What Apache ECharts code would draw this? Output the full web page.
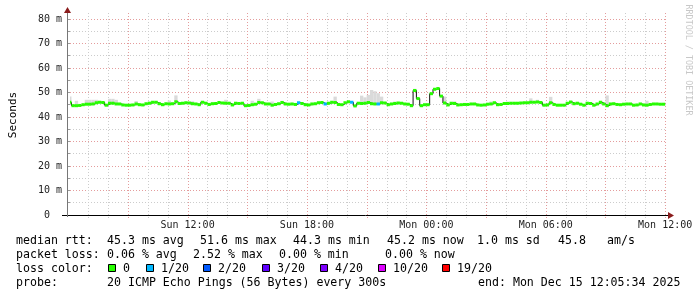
<!DOCTYPE html>
<html><head><meta charset="utf-8">
<script src="https://cdn.jsdelivr.net/npm/echarts@6/dist/echarts.min.js"></script>
<style>html,body{margin:0;padding:0;background:#fff}#c{width:697px;height:297px}</style>
</head><body><div id="c"></div>
<script>
// ---- time frame ----
const START = Date.UTC(2025, 11, 14, 6, 5, 34);
const END = Date.UTC(2025, 11, 15, 12, 5, 34);
const FIRST_SAMPLE = Date.UTC(2025, 11, 14, 6, 10, 0);
const STEP = 10 * 60 * 1000;

// ---- median rtt (ms), one value per 10-minute step ----
const medianMs = [
  46.0,44.6,44.6,44.7,45.0,45.2,45.2,45.3,45.8,46.0,45.9,44.8,45.6,45.6,45.3,45.3,44.9,44.8,44.8,44.9,
  45.3,45.0,44.9,45.4,45.6,46.0,46.0,45.4,45.0,45.4,45.3,45.4,46.2,45.5,45.6,45.8,45.7,45.4,45.3,45.0,
  46.0,45.6,45.1,45.4,45.5,
  45.9,45.7,45.6,45.6,44.9,45.6,45.5,45.6,44.6,44.7,45.0,45.2,45.9,45.8,45.3,45.3,44.8,45.1,45.4,45.9,
  45.3,45.2,45.3,45.1,45.8,45.5,45.0,44.9,45.3,45.4,45.8,45.9,45.3,45.6,46.0,45.9,45.1,45.0,45.8,46.2,
  46.0,44.5,45.6,45.5,
  45.6,45.9,45.4,45.3,45.3,45.8,45.7,45.0,45.3,45.5,45.7,45.6,45.3,45.2,44.6,50.8,47.5,44.6,45.0,45.0,
  49.5,51.3,51.6,48.5,45.7,44.9,45.6,45.5,44.9,45.0,45.1,45.1,45.3,45.3,44.9,44.8,44.9,45.2,45.3,45.8,
  45.0,45.1,45.5,45.5,45.6,45.6,
  45.6,45.7,45.8,45.8,46.0,46.0,46.1,45.9,44.8,44.9,45.8,45.1,44.8,44.8,44.8,45.6,46.1,45.4,45.6,45.2,
  44.8,45.6,45.5,44.8,45.3,46.0,45.3,44.6,45.3,45.4,45.1,45.0,45.2,45.3,45.3,44.8,44.9,45.3,44.9,44.8,
  45.1,45.3,45.3,45.2,45.2
];

// ---- samples with packet loss: [sample index, loss level index] ----
const lossSamples = [[69, 1], [77, 1], [85, 1], [93, 1]];

// ---- smoke (max ping) tops: [sample index, ms] ----
const smokeTop = [
  [0,48.3],[2,46.6],[5,47.0],[6,47.0],[7,47.0],[8,47.0],[12,47.4],[13,47.4],[14,47.0],[20,46.5],
  [24,46.3],[30,46.7],[32,48.8],[37,46.4],[43,46.0],[47,47.0],[55,46.6],[57,47.4],[61,46.3],[64,46.6],
  [75,46.4],[80,48.3],[88,48.7],[89,48.0],[90,49.0],[91,51.0],[92,50.5],[93,49.7],[94,48.3],[98,46.3],
  [104,51.5],[113,48.3],[116,46.4],[127,46.3],[132,46.3],[139,47.6],[141,47.0],[145,48.2],[162,48.8],[174,46.6]
];

// ---- axis labels ----
const xLabelTimes = [Date.UTC(2025,11,14,12), Date.UTC(2025,11,14,18), Date.UTC(2025,11,15,0), Date.UTC(2025,11,15,6), Date.UTC(2025,11,15,12)];
const xLabelTexts = ['Sun 12:00', 'Sun 18:00', 'Mon 00:00', 'Mon 06:00', 'Mon 12:00'];
const yMajorTicks = [0, 10, 20, 30, 40, 50, 60, 70, 80];

// ---- legend ----
const lossLabels = ['0', '1/20', '2/20', '3/20', '4/20', '10/20', '19/20'];
const lossColors = ['#26ff00', '#00b8ff', '#0059ff', '#5e00ff', '#7e00ff', '#dd00ff', '#ff0000'];
const statsRtt = ['median rtt:', '45.3 ms avg', '51.6 ms max', '44.3 ms min', '45.2 ms now', '1.0 ms sd', '45.8', 'am/s'];
const statsLoss = ['packet loss:', '0.06 % avg', '2.52 % max', '0.00 % min', '0.00 % now'];
const probeLine = ['probe:', '20 ICMP Echo Pings (56 Bytes) every 300s', 'end: Mon Dec 15 12:05:34 2025'];

// layout (pixels)
const rttX = [16, 107, 200, 293, 387, 477, 558, 607];
const lossX = [16, 107, 193, 279, 385];
const boxX = [108, 146, 203, 262, 320, 378, 442];
const probeX = [16, 107, 478];
const lineY = [241, 255, 269, 283];

const G = {left: 67, top: 15, width: 600, height: 200};
const MONO = '"DejaVu Sans Mono", monospace';
const RED_GRID = '#e49c9c';
const GRAY_GRID = '#cccccc';
const ARROW = '#8a1c1c';

const lossOf = new Array(medianMs.length).fill(0);
lossSamples.forEach(([i, l]) => { lossOf[i] = l; });
const sampleTime = i => FIRST_SAMPLE + i * STEP;

const medianData = medianMs.map((v, i) => [sampleTime(i), v, lossOf[i]]);
const smokeData = smokeTop.map(([i, top]) => [sampleTime(i), top, medianMs[i]]);
const hourTicks = [];
for (let t = Date.UTC(2025,11,14,7); t <= END; t += 3600000) hourTicks.push([t, new Date(t).getUTCHours() % 3 === 0 ? 1 : 0]);

const graphics = [];
const txt = (text, x, y, extra) => graphics.push({type: 'text', x, y, silent: true,
  style: Object.assign({text, fill: '#000', font: '11.6px ' + MONO, verticalAlign: 'middle'}, extra || {})});
statsRtt.forEach((s, k) => txt(s, rttX[k], lineY[0]));
statsLoss.forEach((s, k) => txt(s, lossX[k], lineY[1]));
txt('loss color:', 16, lineY[2]);
lossLabels.forEach((s, k) => {
  graphics.push({type: 'rect', silent: true, shape: {x: boxX[k] + 0.5, y: 264.5, width: 7, height: 7},
    style: {fill: lossColors[k], stroke: '#000', lineWidth: 1}});
  txt(s, boxX[k] + 15, lineY[2]);
});
probeLine.forEach((s, k) => txt(s, probeX[k], lineY[3]));
// watermark
graphics.push({type: 'text', x: 688.5, y: 60, rotation: -Math.PI / 2, silent: true,
  style: {text: 'RRDTOOL / TOBI OETIKER', fill: '#c8c8c8', font: '8.4px ' + MONO, align: 'center', verticalAlign: 'middle'}});
// axis extensions and arrows
const bottom = G.top + G.height;
graphics.push({type: 'line', silent: true, shape: {x1: 62, y1: bottom + 0.5, x2: 669, y2: bottom + 0.5}, style: {stroke: '#000', lineWidth: 1}, z: 50});
graphics.push({type: 'polygon', silent: true, shape: {points: [[668, bottom - 3], [674, bottom + 0.5], [668, bottom + 4]]}, style: {fill: ARROW}, z: 50});
graphics.push({type: 'line', silent: true, shape: {x1: G.left + 0.5, y1: bottom + 2, x2: G.left + 0.5, y2: 12}, style: {stroke: '#777', lineWidth: 1}, z: 50});
graphics.push({type: 'polygon', silent: true, shape: {points: [[G.left - 3, 13], [G.left + 0.5, 7], [G.left + 4, 13]]}, style: {fill: ARROW}, z: 50});

const chart = echarts.init(document.getElementById('c'), null, {renderer: 'canvas'});
chart.setOption({
  animation: false,
  backgroundColor: '#fff',
  grid: G,
  xAxis: {
    type: 'value', min: START, max: END,
    axisLine: {show: false}, axisTick: {show: false}, axisLabel: {show: false}, splitLine: {show: false}
  },
  yAxis: {
    type: 'value', min: 0, max: 81.6, interval: 5,
    name: 'Seconds', nameLocation: 'middle', nameGap: 51,
    nameTextStyle: {fontFamily: MONO, fontSize: 11, color: '#000'},
    axisLine: {show: false},
    axisTick: {show: true, length: 3, lineStyle: {color: '#999'}},
    axisLabel: {
      showMaxLabel: false, margin: 8, fontFamily: MONO, fontSize: 10, color: '#222',
      formatter: v => (yMajorTicks.indexOf(v) < 0 ? '' : (v === 0 ? '0  ' : v + ' m'))
    },
    splitLine: {show: true, showMaxLine: false, lineStyle: {color: [RED_GRID, GRAY_GRID], type: [1, 2], width: 1}}
  },
  graphic: graphics,
  series: [
    {
      type: 'custom', name: 'vgrid', silent: true, z: 0, data: hourTicks,
      renderItem: (params, api) => {
        const x = Math.round(api.coord([api.value(0), 0])[0]) + 0.5;
        const cs = params.coordSys;
        return {type: 'line', shape: {x1: x, y1: cs.y - 2, x2: x, y2: cs.y + cs.height + 3},
          style: {stroke: api.value(1) ? RED_GRID : GRAY_GRID, lineWidth: 1, lineDash: [1, 2]}};
      }
    },
    {
      type: 'custom', name: 'xlabels', silent: true, data: xLabelTimes.map(t => [t, 0]),
      renderItem: (params, api) => {
        const p = api.coord([api.value(0), 0]);
        return {type: 'text', x: p[0], y: p[1] + 5,
          style: {text: xLabelTexts[params.dataIndex], font: '10px ' + MONO, fill: '#222', align: 'center', verticalAlign: 'top'}};
      }
    },
    {
      type: 'custom', name: 'smoke', silent: true, clip: true, z: 2, data: smokeData,
      renderItem: (params, api) => {
        const t = api.value(0);
        const a = api.coord([t - STEP, api.value(1)]);
        const b = api.coord([t, api.value(2)]);
        return {type: 'rect', shape: {x: a[0], y: a[1], width: b[0] - a[0], height: b[1] - a[1]}, style: {fill: '#dadada'}};
      }
    },
    {
      type: 'line', name: 'median-step', silent: true, z: 3, step: 'start', showSymbol: false, symbol: 'none',
      data: medianData.map(d => [d[0], d[1]]),
      lineStyle: {color: '#111', width: 1}
    },
    {
      type: 'custom', name: 'median', silent: true, clip: true, z: 4, data: medianData,
      renderItem: (params, api) => {
        const t = api.value(0);
        const a = api.coord([t - STEP, api.value(1)]);
        const b = api.coord([t, api.value(1)]);
        return {type: 'rect', shape: {x: a[0], y: a[1] - 1.5, width: b[0] - a[0], height: 3},
          style: {fill: lossColors[api.value(2)]}};
      }
    }
  ]
});
</script></body></html>
